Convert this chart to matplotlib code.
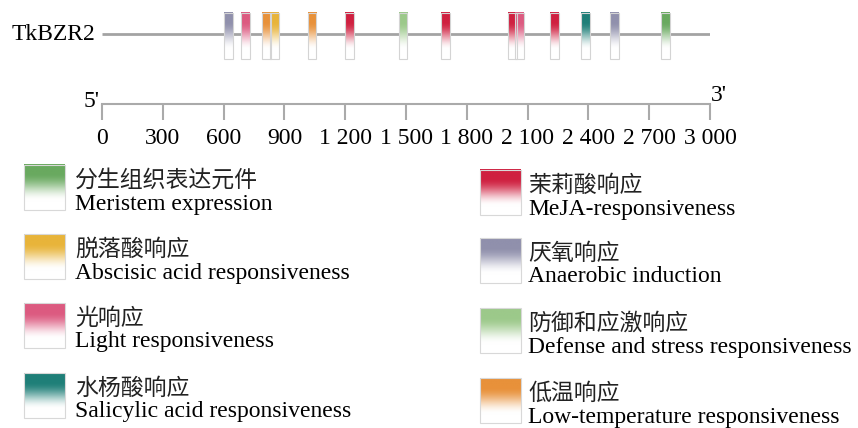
import numpy as np
import matplotlib
matplotlib.use("Agg")
from matplotlib import pyplot as plt
from matplotlib.patches import Rectangle

plt.rcParams["font.family"] = ["Liberation Serif", "Noto Sans CJK SC"]

# data
gene_name = "TkBZR2"
gene_length = 3000
element_pos = [622, 709, 812, 849, 1036, 1219, 1485, 1696, 2024, 2062, 2231, 2384, 2531, 2781]
element_type = ["anaerobic", "light", "lowtemp", "aba", "lowtemp", "meja", "defense",
                "meja", "meja", "light", "meja", "sa", "anaerobic", "meristem"]
scale_ticks = list(range(0, 3001, 300))

left_keys = ["meristem", "aba", "light", "sa"]
right_keys = ["meja", "anaerobic", "defense", "lowtemp"]
label_cn = {
    "meristem": "分生组织表达元件", "aba": "脱落酸响应", "light": "光响应", "sa": "水杨酸响应",
    "meja": "茉莉酸响应", "anaerobic": "厌氧响应", "defense": "防御和应激响应", "lowtemp": "低温响应",
}
label_en = {
    "meristem": "Meristem expression", "aba": "Abscisic acid responsiveness",
    "light": "Light responsiveness", "sa": "Salicylic acid responsiveness",
    "meja": "MeJA-responsiveness", "anaerobic": "Anaerobic induction",
    "defense": "Defense and stress responsiveness", "lowtemp": "Low-temperature responsiveness",
}
colors = {
    "meristem": "#69a95f", "aba": "#e8b43a", "light": "#dc5a80", "sa": "#1f7f78",
    "meja": "#cf2040", "anaerobic": "#9090ac", "defense": "#9cc98a", "lowtemp": "#e8913a",
}


def gradient(color, n=200):
    # colour at the top, fading smoothly to white at the bottom
    rgb = np.array(matplotlib.colors.to_rgb(color))
    t = np.linspace(0, 1, n)
    f = np.clip((0.8 - t) / 0.6, 0, 1)
    f = f * f * (3 - 2 * f)
    img = rgb[None, :] * f[:, None] + (1 - f[:, None])
    return np.repeat(img[:, None, :], 2, axis=1)


W, H = 858, 428
fig = plt.figure(figsize=(W / 100, H / 100), dpi=100)

x0, x1 = 102, 710
# gene track (y in pixels from top)
axg = fig.add_axes([x0 / W, 1 - 70 / H, (x1 - x0) / W, 70 / H])
axg.hlines(34, 0, gene_length, color="#a3a3a3", lw=2, zorder=1)
ew = 44
for p, k in zip(element_pos, element_type):
    axg.imshow(gradient(colors[k]), extent=(p - ew / 2, p + ew / 2, 59, 12.7),
               aspect="auto", zorder=2, interpolation="antialiased")
    axg.add_patch(Rectangle((p - ew / 2, 12.7), ew, 46.3, fill=False,
                            ec="#d4d4d4", lw=0.8, zorder=3))
axg.set_xlim(0, gene_length)
axg.set_ylim(70, 0)
axg.axis("off")

# scale bar
axs = fig.add_axes([x0 / W, 1 - 104 / H, (x1 - x0) / W, 1 / H])
axs.set_xlim(0, gene_length)
for s in ["top", "left", "right"]:
    axs.spines[s].set_visible(False)
axs.spines["bottom"].set_color("#aaaaaa")
axs.spines["bottom"].set_linewidth(1.5)
axs.set_yticks([])
axs.set_xticks(scale_ticks)
axs.set_xticklabels([f"{v:,}".replace(",", " ") for v in scale_ticks])
axs.tick_params(axis="x", direction="out", length=11.5, width=1.5, color="#aaaaaa",
                labelsize=17, pad=6)
axs.patch.set_visible(False)

# overlay for labels and legend (pixel coords)
axt = fig.add_axes([0, 0, 1, 1])
axt.set_xlim(0, W)
axt.set_ylim(H, 0)
axt.axis("off")
axt.text(95, 34, gene_name, ha="right", va="center", fontsize=17)
axt.text(100, 101, "5'", ha="right", va="center", fontsize=17)
axt.text(711, 95, "3'", ha="left", va="center", fontsize=17)

left_tops = [165, 234, 303, 373]
right_tops = [170, 238, 308, 378]
for keys, tops, sx, tx in [(left_keys, left_tops, 24, 75), (right_keys, right_tops, 480, 528)]:
    for k, t in zip(keys, tops):
        axt.imshow(gradient(colors[k]), extent=(sx, sx + 41, t + 45, t),
                   aspect="auto", interpolation="antialiased")
        axt.add_patch(Rectangle((sx, t), 41, 45, fill=False, ec="#d8d8d8", lw=0.8))
        axt.text(tx, t + 16, label_cn[k], ha="left", va="center", fontsize=16.5, color="#222222")
        axt.text(tx, t + 39, label_en[k], ha="left", va="center", fontsize=17)
axt.set_xlim(0, W)
axt.set_ylim(H, 0)

fig.savefig("out.png", dpi=100)
